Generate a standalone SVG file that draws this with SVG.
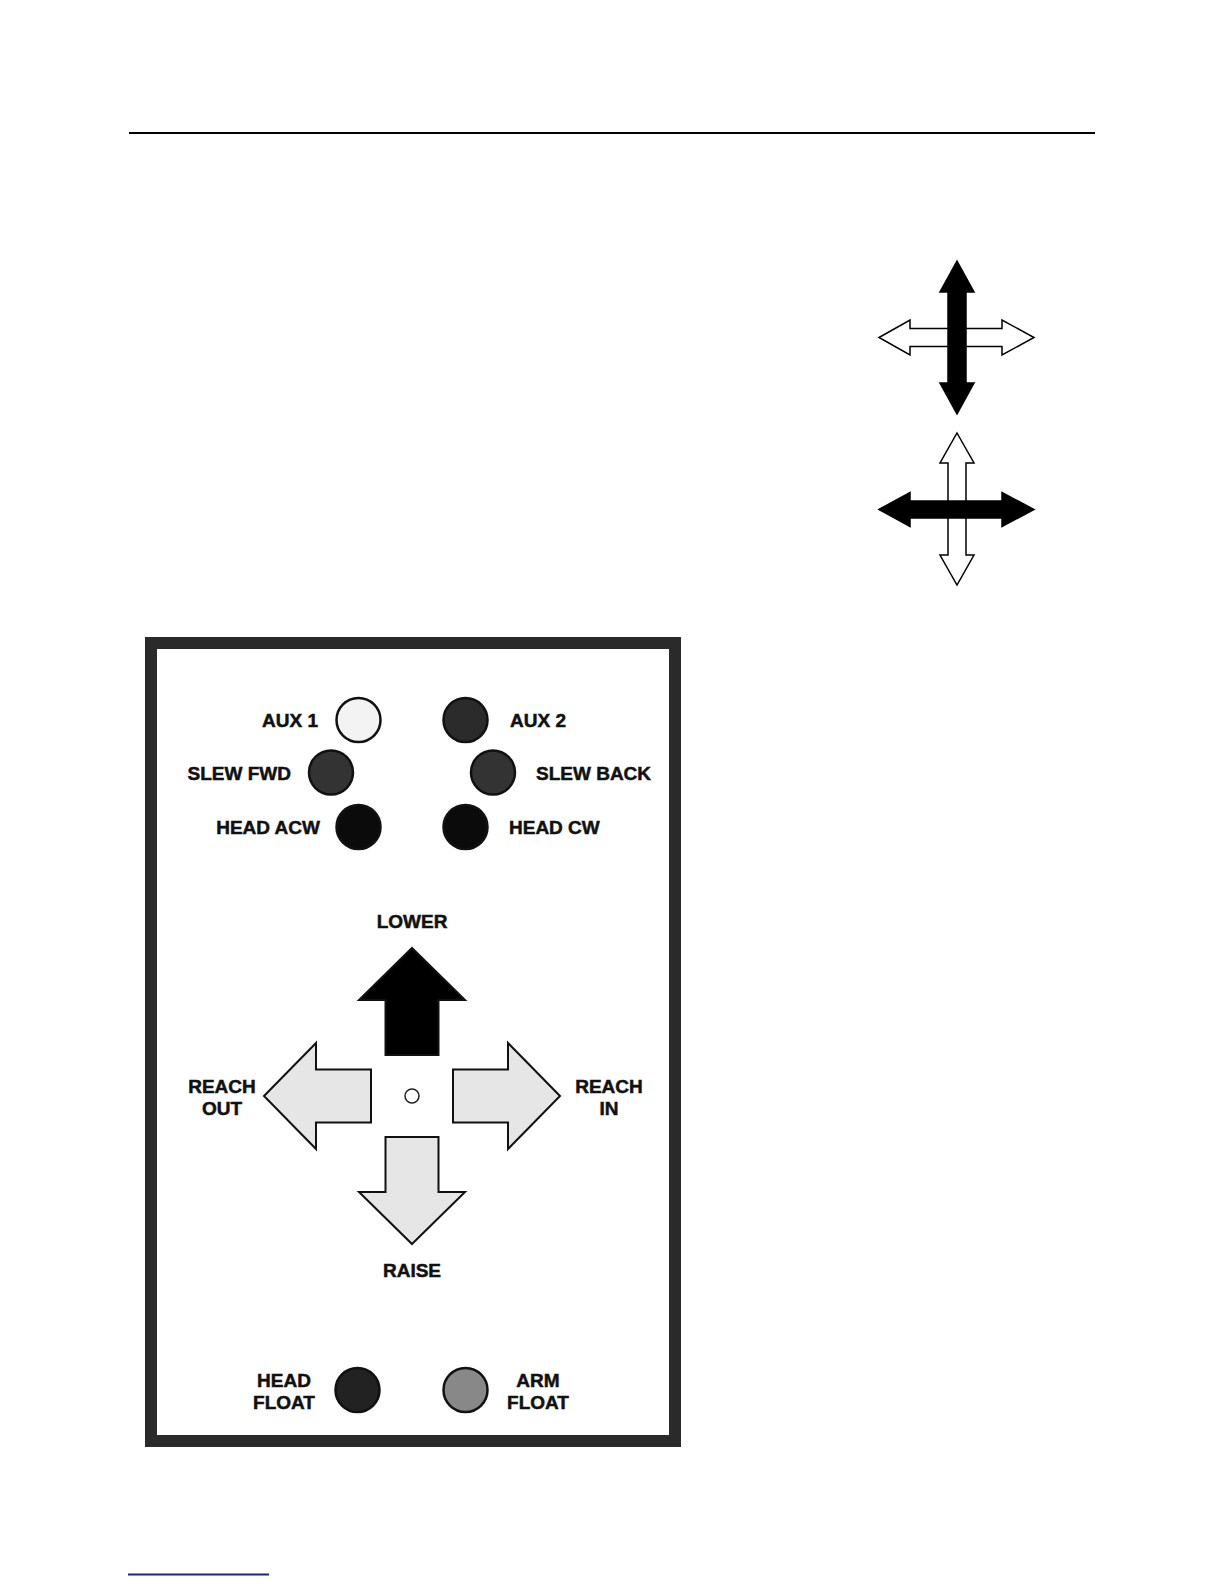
<svg xmlns="http://www.w3.org/2000/svg" width="1224" height="1584" viewBox="0 0 1224 1584">
<style>
.lbl{font-family:"Liberation Sans",Arial,sans-serif;font-weight:bold;font-size:19px;fill:#111;stroke:#111;stroke-width:0.5}
.btn{stroke:#111;stroke-width:2.5}
.big{stroke:#111;stroke-width:2;stroke-linejoin:miter}
.thin{stroke:#000;stroke-width:1.5;stroke-linejoin:miter}
</style>
<rect width="1224" height="1584" fill="#fff"/>
<line x1="129" y1="133" x2="1095" y2="133" stroke="#000" stroke-width="2"/>
<line x1="128" y1="1574.5" x2="269" y2="1574.5" stroke="#1f1f8f" stroke-width="2"/>

<g id="cross-vertical-active">
  <polygon class="thin" fill="#fff" points="879,337.5 910,320 910,328.5 1002,328.5 1002,320 1034,337.5 1002,355 1002,346.5 910,346.5 910,355"/>
  <polygon class="thin" fill="#000" points="957,261 974,292 966,292 966,383 974,383 957,414 940,383 948,383 948,292 940,292"/>
</g>
<g id="cross-horizontal-active">
  <polygon class="thin" fill="#fff" points="957,433 974,463 966,463 966,555 974,555 957,585 940,555 948,555 948,463 940,463"/>
  <polygon class="thin" fill="#000" points="879,509.5 910,492.5 910,501 1002,501 1002,492.5 1034,509.5 1002,526.5 1002,518 910,518 910,526.5"/>
</g>

<g id="panel">
  <rect x="151" y="643" width="524" height="798" fill="#fff" stroke="#2a2a2a" stroke-width="12"/>
</g>

<g id="aux1"><circle class="btn" cx="358.5" cy="720" r="22" fill="#f3f3f3"/><text class="lbl" x="318" y="727" text-anchor="end">AUX 1</text></g>
<g id="aux2"><circle class="btn" cx="465.5" cy="720" r="22" fill="#2b2b2b"/><text class="lbl" x="510" y="727">AUX 2</text></g>
<g id="slew-fwd"><circle class="btn" cx="331" cy="772.5" r="22" fill="#333"/><text class="lbl" x="291" y="779.5" text-anchor="end">SLEW FWD</text></g>
<g id="slew-back"><circle class="btn" cx="493" cy="772.5" r="22" fill="#333"/><text class="lbl" x="536" y="779.5">SLEW BACK</text></g>
<g id="head-acw"><circle class="btn" cx="358.5" cy="827" r="22" fill="#0b0b0b"/><text class="lbl" x="320" y="834" text-anchor="end">HEAD ACW</text></g>
<g id="head-cw"><circle class="btn" cx="465.5" cy="827" r="22" fill="#0b0b0b"/><text class="lbl" x="509" y="834">HEAD CW</text></g>

<g id="lower">
  <polygon class="big" fill="#000" points="412,948 465,1000 438.5,1000 438.5,1055 385.5,1055 385.5,1000 359,1000"/>
  <text class="lbl" x="412" y="928" text-anchor="middle">LOWER</text>
</g>
<g id="raise">
  <polygon class="big" fill="#e6e6e6" points="412,1244 465,1192 438.5,1192 438.5,1137 385.5,1137 385.5,1192 359,1192"/>
  <text class="lbl" x="412" y="1277" text-anchor="middle">RAISE</text>
</g>
<g id="reach-out">
  <polygon class="big" fill="#e6e6e6" points="264,1096 316,1043 316,1069.5 371,1069.5 371,1122.5 316,1122.5 316,1149"/>
  <text class="lbl" x="222" y="1092.5" text-anchor="middle">REACH</text>
  <text class="lbl" x="222" y="1114.5" text-anchor="middle">OUT</text>
</g>
<g id="reach-in">
  <polygon class="big" fill="#e6e6e6" points="560,1096 508,1043 508,1069.5 453,1069.5 453,1122.5 508,1122.5 508,1149"/>
  <text class="lbl" x="609" y="1092.5" text-anchor="middle">REACH</text>
  <text class="lbl" x="609" y="1114.5" text-anchor="middle">IN</text>
</g>
<g id="center-dot"><circle cx="412" cy="1096" r="7" fill="#fff" stroke="#222" stroke-width="1.5"/></g>

<g id="head-float"><circle class="btn" cx="357.5" cy="1390" r="22" fill="#222"/>
  <text class="lbl" x="284" y="1386.5" text-anchor="middle">HEAD</text>
  <text class="lbl" x="284" y="1408.5" text-anchor="middle">FLOAT</text></g>
<g id="arm-float"><circle class="btn" cx="465.5" cy="1390" r="22" fill="#888"/>
  <text class="lbl" x="538" y="1386.5" text-anchor="middle">ARM</text>
  <text class="lbl" x="538" y="1408.5" text-anchor="middle">FLOAT</text></g>
<g id="connectors"></g>
</svg>
